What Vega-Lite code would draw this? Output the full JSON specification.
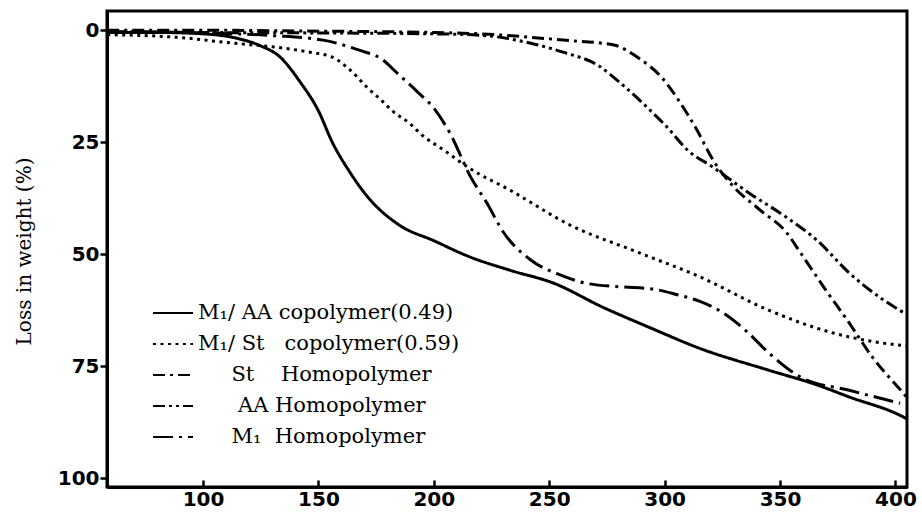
{
  "$schema": "https://vega.github.io/schema/vega-lite/v6.json",
  "width": 800,
  "height": 476,
  "autosize": "none",
  "padding": {"left": 107, "top": 11, "right": 15, "bottom": 25},
  "background": "white",
  "config": {
    "view": {"stroke": "black", "strokeWidth": 3},
    "axis": {
      "domainColor": "black", "domainWidth": 3, "tickColor": "black", "tickWidth": 2.5,
      "grid": false, "labelColor": "black", "labelFont": "DejaVu Sans", "labelFontWeight": "bold",
      "labelFontSize": 20, "titleColor": "black"
    }
  },
  "data": {"values": [
    {"s": "A", "t": 58.5, "loss": 0.5}, {"s": "A", "t": 80, "loss": 0.5}, {"s": "A", "t": 100, "loss": 0.8},
    {"s": "A", "t": 113, "loss": 1.6}, {"s": "A", "t": 125, "loss": 3.5}, {"s": "A", "t": 133, "loss": 5.8},
    {"s": "A", "t": 142, "loss": 11.5}, {"s": "A", "t": 150, "loss": 18}, {"s": "A", "t": 156, "loss": 25},
    {"s": "A", "t": 164, "loss": 32}, {"s": "A", "t": 171, "loss": 37}, {"s": "A", "t": 185, "loss": 43.5},
    {"s": "A", "t": 200, "loss": 47}, {"s": "A", "t": 215, "loss": 50.5}, {"s": "A", "t": 233, "loss": 53.6},
    {"s": "A", "t": 252, "loss": 56.5}, {"s": "A", "t": 273, "loss": 61.8}, {"s": "A", "t": 294, "loss": 66.5},
    {"s": "A", "t": 315, "loss": 71}, {"s": "A", "t": 345, "loss": 75.9}, {"s": "A", "t": 366, "loss": 79.2},
    {"s": "A", "t": 380, "loss": 81.9}, {"s": "A", "t": 402, "loss": 86}, {"s": "A", "t": 405, "loss": 86.8},

    {"s": "B", "t": 58.5, "loss": 1}, {"s": "B", "t": 80, "loss": 1.3}, {"s": "B", "t": 94, "loss": 1.8},
    {"s": "B", "t": 106, "loss": 2.5}, {"s": "B", "t": 120, "loss": 3.2}, {"s": "B", "t": 135, "loss": 4},
    {"s": "B", "t": 145, "loss": 4.8}, {"s": "B", "t": 156, "loss": 6}, {"s": "B", "t": 164, "loss": 9},
    {"s": "B", "t": 171, "loss": 12.7}, {"s": "B", "t": 178, "loss": 16}, {"s": "B", "t": 182, "loss": 18},
    {"s": "B", "t": 190, "loss": 21}, {"s": "B", "t": 194, "loss": 23}, {"s": "B", "t": 205, "loss": 27},
    {"s": "B", "t": 216, "loss": 31}, {"s": "B", "t": 233, "loss": 35.7}, {"s": "B", "t": 259, "loss": 43.5},
    {"s": "B", "t": 288, "loss": 49.5}, {"s": "B", "t": 315, "loss": 55}, {"s": "B", "t": 345, "loss": 62.5},
    {"s": "B", "t": 373, "loss": 67.6}, {"s": "B", "t": 390, "loss": 69.5}, {"s": "B", "t": 405, "loss": 70.5},

    {"s": "C", "t": 58.5, "loss": 0}, {"s": "C", "t": 100, "loss": 0}, {"s": "C", "t": 150, "loss": 0.2},
    {"s": "C", "t": 200, "loss": 0.5}, {"s": "C", "t": 220, "loss": 0.8}, {"s": "C", "t": 256, "loss": 2.2},
    {"s": "C", "t": 278, "loss": 3.3}, {"s": "C", "t": 289, "loss": 6.3}, {"s": "C", "t": 299, "loss": 10.7},
    {"s": "C", "t": 306, "loss": 15.6}, {"s": "C", "t": 314, "loss": 22.3}, {"s": "C", "t": 321, "loss": 29},
    {"s": "C", "t": 330, "loss": 35}, {"s": "C", "t": 341, "loss": 40}, {"s": "C", "t": 353, "loss": 45.3},
    {"s": "C", "t": 359, "loss": 49.8}, {"s": "C", "t": 369, "loss": 57.4}, {"s": "C", "t": 380, "loss": 65.4},
    {"s": "C", "t": 390, "loss": 73}, {"s": "C", "t": 403, "loss": 80.8}, {"s": "C", "t": 405, "loss": 82},

    {"s": "D", "t": 58.5, "loss": 0.3}, {"s": "D", "t": 100, "loss": 0.5}, {"s": "D", "t": 150, "loss": 0.6},
    {"s": "D", "t": 200, "loss": 0.8}, {"s": "D", "t": 220, "loss": 1.1}, {"s": "D", "t": 242, "loss": 2.9},
    {"s": "D", "t": 256, "loss": 4.9}, {"s": "D", "t": 271, "loss": 7.8}, {"s": "D", "t": 282, "loss": 12.3},
    {"s": "D", "t": 294, "loss": 18}, {"s": "D", "t": 301, "loss": 21.6}, {"s": "D", "t": 310, "loss": 26.8},
    {"s": "D", "t": 321, "loss": 30.6}, {"s": "D", "t": 337, "loss": 36.5}, {"s": "D", "t": 352, "loss": 41.5},
    {"s": "D", "t": 366, "loss": 46.9}, {"s": "D", "t": 380, "loss": 54.2}, {"s": "D", "t": 395, "loss": 60.3},
    {"s": "D", "t": 405, "loss": 63.5},

    {"s": "E", "t": 58.5, "loss": 0.3}, {"s": "E", "t": 100, "loss": 0.6}, {"s": "E", "t": 130, "loss": 1.2},
    {"s": "E", "t": 152, "loss": 2.2}, {"s": "E", "t": 168, "loss": 4.5}, {"s": "E", "t": 177, "loss": 6.3},
    {"s": "E", "t": 185, "loss": 10}, {"s": "E", "t": 193, "loss": 13.8}, {"s": "E", "t": 200, "loss": 17.4},
    {"s": "E", "t": 207, "loss": 23}, {"s": "E", "t": 216, "loss": 32.8}, {"s": "E", "t": 223, "loss": 38.6},
    {"s": "E", "t": 230, "loss": 45}, {"s": "E", "t": 242, "loss": 51.3}, {"s": "E", "t": 255, "loss": 54.7},
    {"s": "E", "t": 266, "loss": 56.5}, {"s": "E", "t": 281, "loss": 57.3}, {"s": "E", "t": 295, "loss": 57.8},
    {"s": "E", "t": 305, "loss": 59}, {"s": "E", "t": 315, "loss": 60.5}, {"s": "E", "t": 325, "loss": 63},
    {"s": "E", "t": 335, "loss": 67}, {"s": "E", "t": 345, "loss": 72}, {"s": "E", "t": 359, "loss": 77.5},
    {"s": "E", "t": 380, "loss": 80.4}, {"s": "E", "t": 402, "loss": 83.3}
  ]},
  "mark": {"type": "line", "color": "black", "strokeWidth": 3, "strokeCap": "butt", "interpolate": "monotone", "clip": true},
  "encoding": {
    "x": {
      "field": "t", "type": "quantitative",
      "scale": {"domain": [58.4, 405], "nice": false, "zero": false},
      "axis": {"title": null, "values": [100, 150, 200, 250, 300, 350, 400], "tickSize": -7, "labelPadding": 9, "labelFlush": false}
    },
    "y": {
      "field": "loss", "type": "quantitative",
      "scale": {"domain": [-4.3, 102], "nice": false, "zero": false, "reverse": true},
      "axis": {
        "title": "Loss in weight (%)", "values": [0, 25, 50, 75, 100], "tickSize": 7, "labelPadding": 1,
        "titleFont": "DejaVu Serif", "titleFontWeight": "normal", "titleFontSize": 20,
        "titleX": -83, "titleY": 240, "titleBaseline": "middle", "titleAlign": "center", "titleAngle": 270
      }
    },
    "detail": {"field": "s"},
    "strokeDash": {
      "field": "s", "type": "nominal",
      "scale": {"domain": ["A", "B", "C", "D", "E"], "range": [[1, 0], [3, 4.5], [12, 5, 3, 5], [12, 4, 3, 4, 3, 4], [20, 6, 3, 6]]},
      "legend": {
        "title": null, "orient": "none", "legendX": 45, "legendY": 281, "padding": 0,
        "symbolType": "stroke", "symbolSize": 1600, "symbolStrokeWidth": 2, "symbolStrokeColor": "black",
        "labelFont": "DejaVu Serif", "labelFontSize": 21, "labelColor": "black", "labelOffset": 4,
        "rowPadding": 0, "labelLimit": 400,
        "labelExpr": "datum.value == 'A' ? 'M₁/ AA copolymer(0.49)' : datum.value == 'B' ? 'M₁/ St\u00a0\u00a0 copolymer(0.59)' : datum.value == 'C' ? '\u200b\u00a0\u00a0\u00a0\u00a0\u00a0St\u00a0\u00a0\u00a0 Homopolymer' : datum.value == 'D' ? '\u200b\u00a0\u00a0\u00a0\u00a0\u00a0 AA Homopolymer' : '\u200b\u00a0\u00a0\u00a0\u00a0\u00a0M₁\u00a0 Homopolymer'"
      }
    }
  }
}
